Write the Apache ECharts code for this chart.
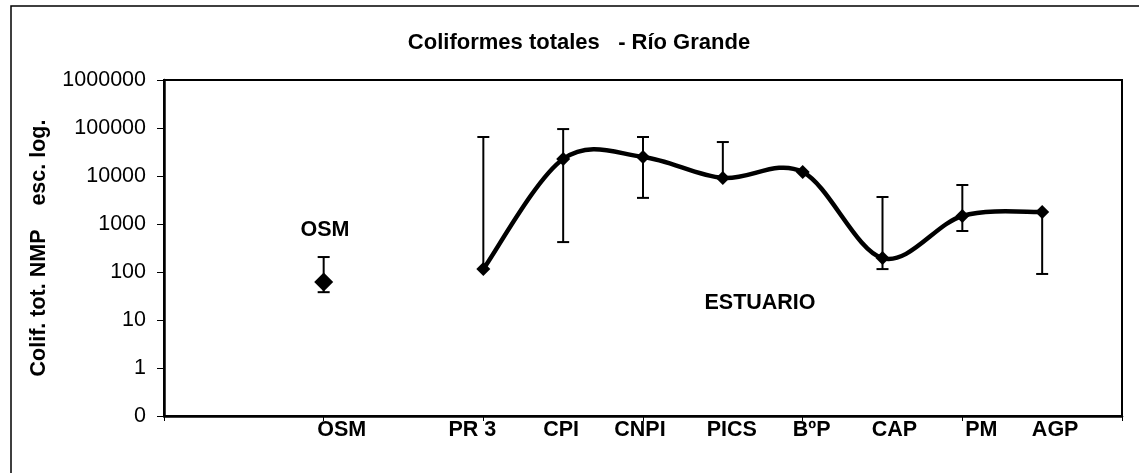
<!DOCTYPE html>
<html>
<head>
<meta charset="utf-8">
<script src="https://cdn.jsdelivr.net/npm/echarts@6/dist/echarts.min.js"></script>
<style>
  html, body { margin: 0; padding: 0; background: #fff; }
  #chart { width: 1139px; height: 473px; }
</style>
</head>
<body>
<div id="chart"></div>
<script>
// Sampling stations along the axis (blank slots keep the spacing)
const categories = ['', '', 'OSM', '', 'PR 3', 'CPI', 'CNPI', 'PICS', 'BºP', 'CAP', 'PM', 'AGP', ''];

// Total coliforms (NMP), estuary stations joined by a smoothed line
const estuaryValues = ['-', '-', '-', '-', 115, 22600, 25000, 9100, 12100, 195, 1470, 1780, '-'];
// Ocean station, drawn on its own
const osmValues = ['-', '-', 62, '-', '-', '-', '-', '-', '-', '-', '-', '-', '-'];

// Error bar extents (null = no bar on that side)
const errLow  = [null, null, 38, null, null, 420, 3500, null, null, 115, 715, 91, null];
const errHigh = [null, null, 205, null, 65000, 95000, 65000, 51000, null, 3650, 6500, null, null];

// Y axis decades
const yTicks = [0.1, 1, 10, 100, 1000, 10000, 100000, 1000000];

const FONT = '"Liberation Sans", Arial, sans-serif';
const FS = 21.5;

// Horizontal nudges of the category labels (in px)
const labelShift = { 'OSM': 18, 'PR 3': -11, 'CPI': -2, 'CNPI': -3, 'PICS': 9, 'BºP': 9, 'CAP': 12, 'PM': 19, 'AGP': 13 };
const rich = {};
Object.keys(labelShift).forEach(function (k, i) {
  const s = labelShift[k];
  rich['s' + i] = {
    fontFamily: FONT, fontWeight: 'bold', fontSize: FS, color: '#000',
    padding: s >= 0 ? [0, 0, 0, 2 * s] : [0, -2 * s, 0, 0]
  };
});
const shiftKeys = Object.keys(labelShift);

const values = categories.map(function (c, i) {
  const v = estuaryValues[i] !== '-' ? estuaryValues[i] : osmValues[i];
  return v === '-' ? null : v;
});
const hasEst = function (i) { return i >= 0 && i < estuaryValues.length && estuaryValues[i] !== '-'; };

const chart = echarts.init(document.getElementById('chart'), null, { renderer: 'canvas' });

chart.setOption({
  backgroundColor: '#fff',
  animation: false,
  title: {
    text: 'Coliformes totales   - Río Grande',
    left: 574,
    top: 27,
    textAlign: 'center',
    textStyle: { fontFamily: FONT, fontWeight: 'bold', fontSize: 22, color: '#000' }
  },
  grid: {
    left: 164, right: 17, top: 80, bottom: 57,
    show: true, borderColor: '#000', borderWidth: 2, backgroundColor: 'transparent'
  },
  xAxis: {
    type: 'category',
    data: categories,
    boundaryGap: false,
    axisLine: { lineStyle: { color: '#000', width: 2.5 } },
    axisTick: { show: true, interval: 1, length: 5, lineStyle: { color: '#000', width: 1 } },
    axisLabel: {
      interval: 0,
      margin: 3,
      fontFamily: FONT, fontWeight: 'bold', fontSize: FS, color: '#000',
      rich: rich,
      formatter: function (v) {
        const i = shiftKeys.indexOf(v);
        return i < 0 ? v : '{s' + i + '|' + v + '}';
      }
    },
    splitLine: { show: false }
  },
  yAxis: {
    type: 'log',
    logBase: 10,
    min: yTicks[0],
    max: yTicks[yTicks.length - 1],
    splitNumber: yTicks.length - 1,
    name: 'Colif. tot. NMP    esc. log.',
    nameLocation: 'middle',
    nameGap: 114,
    nameTextStyle: { fontFamily: FONT, fontWeight: 'bold', fontSize: FS, color: '#000' },
    axisLine: { show: true, lineStyle: { color: '#000', width: 2.5 } },
    axisTick: { show: true, length: 7, lineStyle: { color: '#000', width: 1 } },
    axisLabel: {
      margin: 18,
      fontFamily: FONT, fontSize: FS, color: '#000',
      formatter: function (v) { return v < 1 ? '0' : String(Math.round(v)); }
    },
    splitLine: { show: false }
  },
  series: [
    {
      // error bars
      type: 'custom',
      name: 'error',
      z: 3,
      data: categories.map(function (c, i) { return [i, values[i], errLow[i], errHigh[i]]; }),
      renderItem: function (params, api) {
        const i = api.value(0);
        const v = values[i];
        if (v == null || (errLow[i] == null && errHigh[i] == null)) return null;
        const lo = errLow[i] != null ? errLow[i] : v;
        const hi = errHigh[i] != null ? errHigh[i] : v;
        const pLo = api.coord([i, lo]);
        const pHi = api.coord([i, hi]);
        const cap = 6;
        const style = { stroke: '#000', lineWidth: 2 };
        const children = [{
          type: 'line', shape: { x1: pLo[0], y1: pLo[1], x2: pHi[0], y2: pHi[1] }, style: style
        }];
        if (errLow[i] != null) children.push({
          type: 'line', shape: { x1: pLo[0] - cap, y1: pLo[1], x2: pLo[0] + cap, y2: pLo[1] }, style: style
        });
        if (errHigh[i] != null) children.push({
          type: 'line', shape: { x1: pHi[0] - cap, y1: pHi[1], x2: pHi[0] + cap, y2: pHi[1] }, style: style
        });
        return { type: 'group', children: children };
      }
    },
    {
      // smoothed estuary line: one cubic segment from each station to the next
      type: 'custom',
      name: 'Estuario',
      z: 4,
      data: categories.map(function (c, i) { return [i, hasEst(i) ? estuaryValues[i] : null]; }),
      renderItem: function (params, api) {
        const i = api.value(0);
        if (!hasEst(i) || !hasEst(i + 1)) return null;
        const pt = function (k) { return api.coord([k, estuaryValues[k]]); };
        const p0 = hasEst(i - 1) ? pt(i - 1) : pt(i);
        const p1 = pt(i);
        const p2 = pt(i + 1);
        const p3 = hasEst(i + 2) ? pt(i + 2) : pt(i + 1);
        const t = 1 / 6;
        return {
          type: 'bezierCurve',
          shape: {
            x1: p1[0], y1: p1[1], x2: p2[0], y2: p2[1],
            cpx1: p1[0] + (p2[0] - p0[0]) * t, cpy1: p1[1] + (p2[1] - p0[1]) * t,
            cpx2: p2[0] - (p3[0] - p1[0]) * t, cpy2: p2[1] - (p3[1] - p1[1]) * t
          },
          style: { stroke: '#000', lineWidth: 4.5, fill: null, lineCap: 'round' }
        };
      }
    },
    {
      type: 'scatter',
      name: 'Estuario puntos',
      z: 5,
      data: estuaryValues,
      symbol: 'diamond',
      symbolSize: 14,
      itemStyle: { color: '#000', opacity: 1 }
    },
    {
      type: 'scatter',
      name: 'OSM',
      z: 5,
      data: osmValues,
      symbol: 'diamond',
      symbolSize: 19,
      itemStyle: { color: '#000', opacity: 1 }
    }
  ],
  graphic: [
    {
      type: 'rect',
      silent: true,
      shape: { x: 11, y: 6, width: 1300, height: 600 },
      style: { fill: 'none', stroke: '#000', lineWidth: 1.5 }
    },
    {
      type: 'text',
      x: 325, y: 230,
      style: { text: 'OSM', fontFamily: FONT, fontWeight: 'bold', fontSize: FS, fill: '#000', align: 'center', verticalAlign: 'middle' }
    },
    {
      type: 'text',
      x: 760, y: 303,
      style: { text: 'ESTUARIO', fontFamily: FONT, fontWeight: 'bold', fontSize: FS, fill: '#000', align: 'center', verticalAlign: 'middle' }
    }
  ]
});
</script>
</body>
</html>
